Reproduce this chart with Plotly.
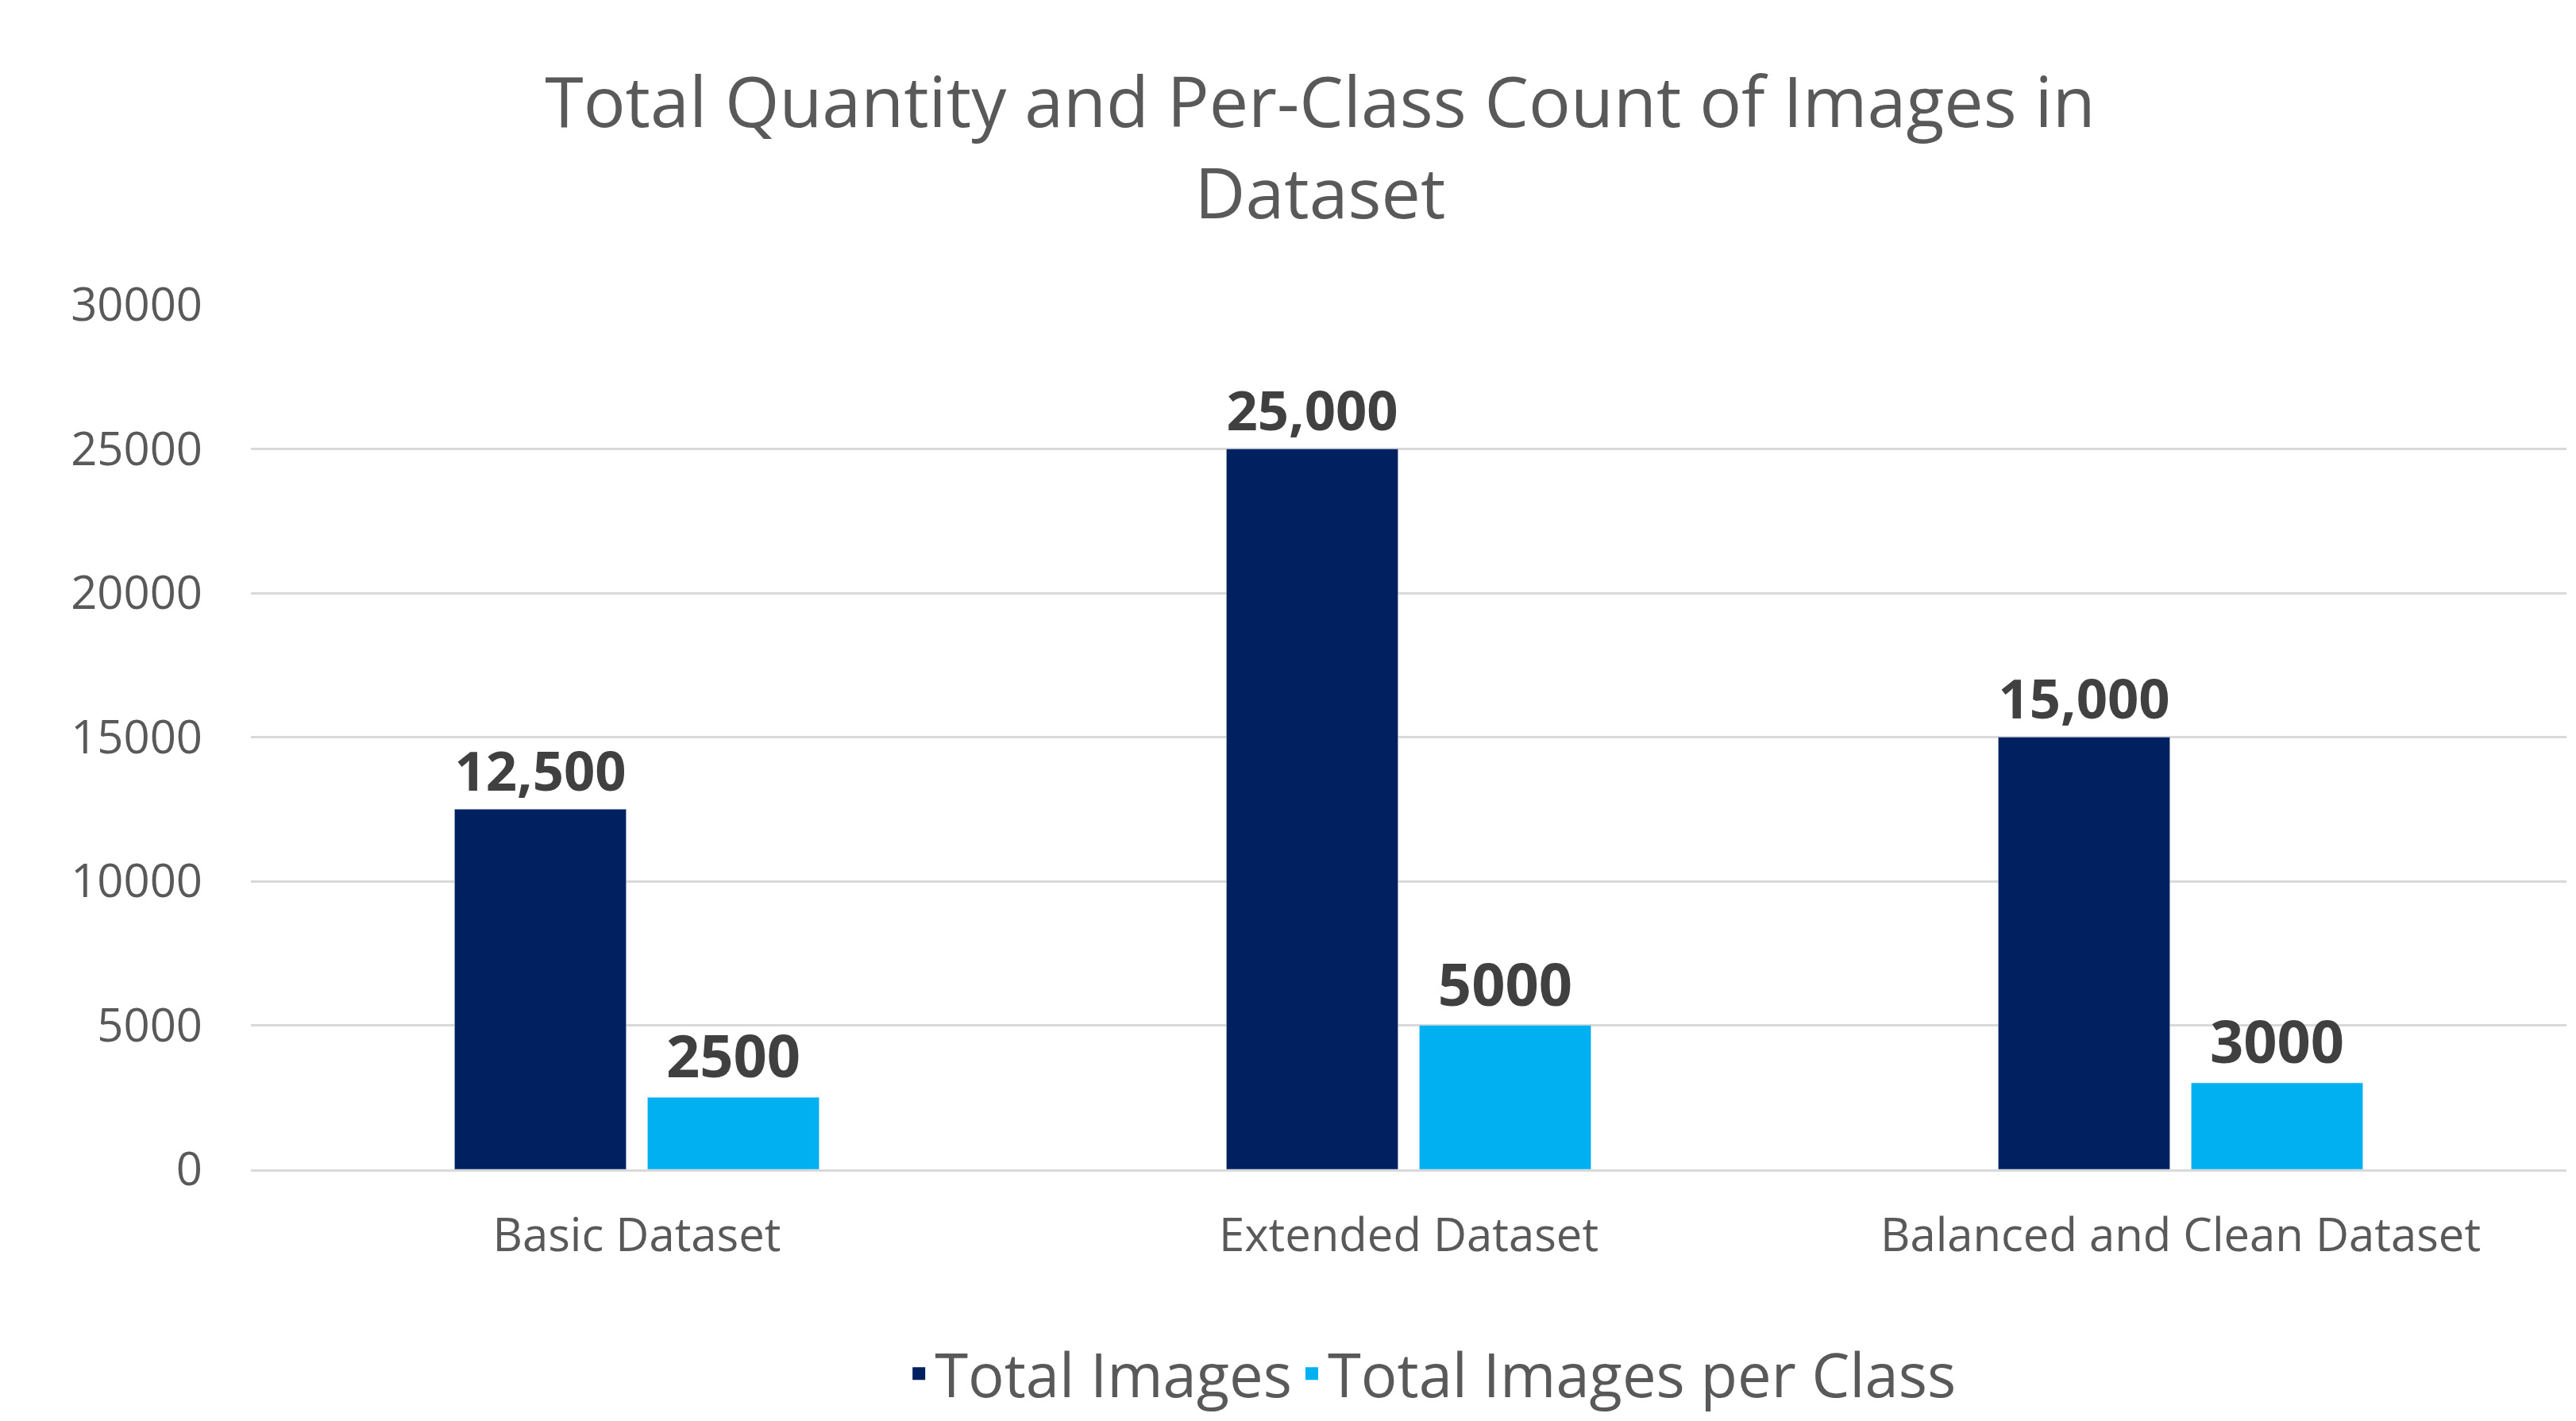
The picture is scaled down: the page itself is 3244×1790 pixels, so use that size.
import plotly.graph_objects as go

categories = ["Basic Dataset", "Extended Dataset", "Balanced and Clean Dataset"]
total_images = [12500, 25000, 15000]
per_class = [2500, 5000, 3000]
total_labels = ["12,500", "25,000", "15,000"]
per_class_labels = ["2500", "5000", "3000"]
y_ticks = [0, 5000, 10000, 15000, 20000, 25000, 30000]
series_names = ["Total Images", "Total Images per Class"]
series_colors = ["#002060", "#00B0F0"]

fig = go.Figure()
for vals, labels, name, color in [(total_images, total_labels, series_names[0], series_colors[0]),
                                  (per_class, per_class_labels, series_names[1], series_colors[1])]:
    fig.add_bar(x=categories, y=vals, name=name, marker_color=color, showlegend=False,
                text=labels, textposition="outside", cliponaxis=False,
                textfont=dict(size=74, color="#404040", family="Open Sans", weight="bold"))
for name, color in zip(series_names, series_colors):
    fig.add_scatter(x=[None], y=[None], mode="markers", name=name,
                    marker=dict(symbol="square", size=48, color=color))

fig.update_layout(
    width=3244, height=1790,
    paper_bgcolor="white", plot_bgcolor="white",
    font=dict(family="Open Sans", color="#595959"),
    title=dict(text="Total Quantity and Per-Class Count of Images in<br>Dataset",
               x=0.51, xanchor="center", yref="container", y=0.915, yanchor="middle",
               font=dict(size=88, color="#595959")),
    margin=dict(l=308, r=20, t=376, b=322),
    barmode="group", bargap=0.5, bargroupgap=0.11,
    legend=dict(orientation="h", x=0.51, xanchor="center", y=-0.185, yanchor="top",
                font=dict(size=76, color="#595959"), itemsizing="trace"),
    xaxis=dict(tickfont=dict(size=58, color="#595959"), showline=True,
               linecolor="#d9d9d9", linewidth=3, ticks="", ticklabelstandoff=30),
    yaxis=dict(range=[0, 30000], tickvals=y_ticks, tickformat="d",
               tickfont=dict(size=58, color="#595959"), gridcolor="#d9d9d9",
               gridwidth=3, zeroline=False, ticklabelstandoff=60),
)
fig.write_html("out.html")
